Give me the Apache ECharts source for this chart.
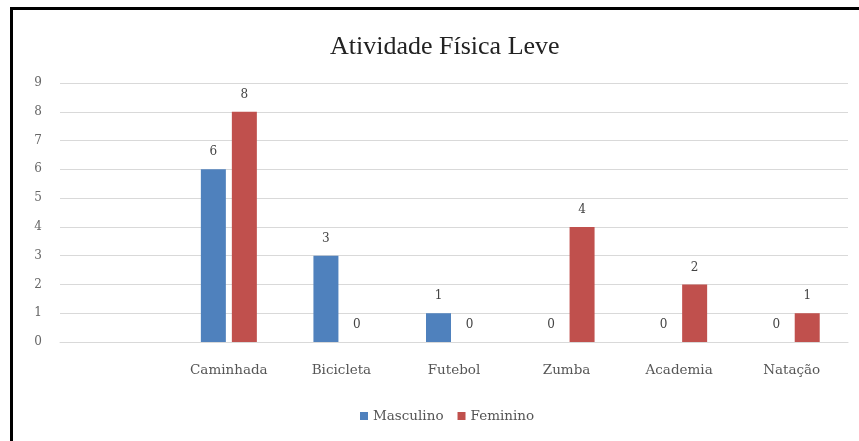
<!DOCTYPE html>
<html>
<head>
<meta charset="utf-8">
<script src="https://cdn.jsdelivr.net/npm/echarts@6/dist/echarts.min.js"></script>
<style>
  html, body { margin: 0; padding: 0; background: #fff; }
  #wrap { position: relative; width: 859px; height: 441px; }
  #frame {
    position: absolute; left: 10px; top: 7px; right: 0; bottom: 0;
    border-left: 3px solid #000; border-top: 3px solid #000;
  }
  #chart { position: absolute; left: 0; top: 0; width: 859px; height: 441px; }
</style>
</head>
<body>
<div id="wrap">
  <div id="frame"></div>
  <div id="chart"></div>
</div>
<script>
// first slot is empty in the original chart
const categories = ['', 'Caminhada', 'Bicicleta', 'Futebol', 'Zumba', 'Academia', 'Natação']
const masculino = ['-', 6, 3, 1, 0, 0, 0]
const feminino = ['-', 8, 0, 0, 4, 2, 1]
const yTicks = [0, 1, 2, 3, 4, 5, 6, 7, 8, 9]

const serif = '"Liberation Serif", "DejaVu Serif", serif'
const wide = '"DejaVu Serif", serif'
const chart = echarts.init(document.getElementById('chart'))

const barLabel = { show: true, position: 'top', distance: 11, fontFamily: wide, fontSize: 12, color: '#444' }

chart.setOption({
  animation: false,
  title: {
    text: 'Atividade Física Leve',
    left: 325,
    top: 29,
    textStyle: { fontFamily: serif, fontSize: 26, fontWeight: 'normal', color: '#222' },
  },
  legend: {
    left: 355,
    top: 404,
    itemWidth: 8,
    itemHeight: 8,
    itemGap: 14,
    icon: 'rect',
    textStyle: { fontFamily: wide, fontSize: 13.5, color: '#555' },
    data: ['Masculino', 'Feminino'],
  },
  grid: { left: 60, right: 11, top: 83, bottom: 99 },
  xAxis: {
    type: 'category',
    data: categories,
    axisLine: { lineStyle: { color: '#d9d9d9' } },
    axisTick: { show: false },
    axisLabel: { fontFamily: wide, fontSize: 13.5, color: '#555', margin: 21 },
  },
  yAxis: {
    type: 'value',
    min: yTicks[0],
    max: yTicks[yTicks.length - 1],
    interval: 1,
    axisLine: { show: false },
    axisTick: { show: false },
    splitLine: { lineStyle: { color: '#d9d9d9' } },
    axisLabel: { fontFamily: wide, fontSize: 12, color: '#666', margin: 18 },
  },
  series: [
    {
      name: 'Masculino',
      type: 'bar',
      data: masculino,
      barWidth: 25,
      barGap: '24%',
      itemStyle: { color: '#4f81bd' },
      label: barLabel,
    },
    {
      name: 'Feminino',
      type: 'bar',
      data: feminino,
      barWidth: 25,
      itemStyle: { color: '#c0504d' },
      label: barLabel,
    },
  ],
})
</script>
</body>
</html>
